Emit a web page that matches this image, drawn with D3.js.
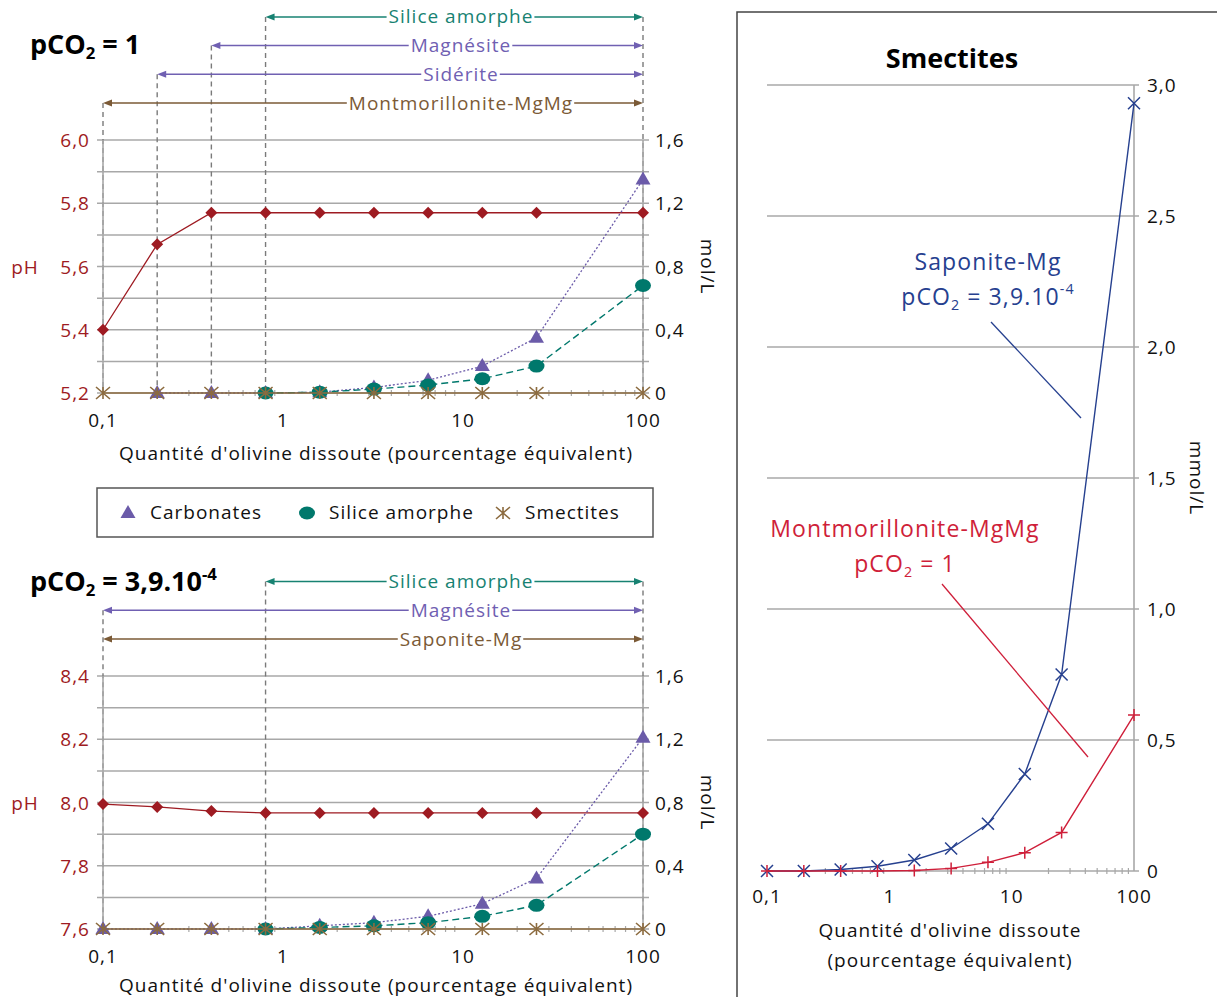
<!DOCTYPE html>
<html>
<head>
<meta charset="utf-8">
<script src="https://cdn.jsdelivr.net/npm/d3@7"></script>
<style>
  body { margin: 0; background: #fff; }
  svg { font-family: "Open Sans", "Noto Sans", sans-serif; letter-spacing: 1px; }
</style>
</head>
<body>
<div id="chart"></div>
<script>
// olivine dissolved (percent equivalent), shared x values
var xValues = [0.1, 0.2, 0.4, 0.8, 1.6, 3.2, 6.4, 12.8, 25.6, 100];
var xTicks = [0.1, 1, 10, 100];
var xTickLabels = ["0,1", "1", "10", "100"];

// pCO2 = 1
var ph1 = [5.40, 5.67, 5.77, 5.77, 5.77, 5.77, 5.77, 5.77, 5.77, 5.77];
var carb1 = [null, 0, 0, 0, 0.005, 0.035, 0.08, 0.17, 0.35, 1.35];
var silica1 = [null, null, null, 0, 0.005, 0.025, 0.05, 0.09, 0.17, 0.68];
var smect1 = [0, 0, 0, 0, 0, 0, 0, 0, 0, 0];
var phases1 = ["Silice amorphe", "Magnésite", "Sidérite", "Montmorillonite-MgMg"];
var phaseStart1 = [0.8, 0.4, 0.2, 0.1];
var phTicks1 = [5.2, 5.4, 5.6, 5.8, 6.0];

// pCO2 = 3,9.10-4
var ph2 = [7.995, 7.986, 7.973, 7.967, 7.967, 7.967, 7.967, 7.967, 7.967, 7.967];
var carb2 = [0, 0, 0, 0, 0.02, 0.04, 0.08, 0.16, 0.32, 1.21];
var silica2 = [null, null, null, 0, 0.01, 0.02, 0.04, 0.08, 0.15, 0.60];
var smect2 = [0, 0, 0, 0, 0, 0, 0, 0, 0, 0];
var phases2 = ["Silice amorphe", "Magnésite", "Saponite-Mg"];
var phaseStart2 = [0.8, 0.1, 0.1];
var phTicks2 = [7.6, 7.8, 8.0, 8.2, 8.4];

var molTicks = [0, 0.4, 0.8, 1.2, 1.6];
var molTickLabels = ["0", "0,4", "0,8", "1,2", "1,6"];

// smectites, mmol/L
var saponite = [0, 0, 0.006, 0.018, 0.042, 0.086, 0.18, 0.37, 0.75, 2.93];
var montmo = [0, 0, 0, 0, 0.002, 0.01, 0.033, 0.07, 0.147, 0.595];
var mmolTicks = [0, 0.5, 1.0, 1.5, 2.0, 2.5, 3.0];
var mmolTickLabels = ["0", "0,5", "1,0", "1,5", "2,0", "2,5", "3,0"];

var colors = {
  ph: "#9e1b22", carb: "#6b5ba9", silica: "#00786c", smect: "#8c6b3f",
  grid: "#a8a8a8", dash: "#7a7a7a", sap: "#26408f", mont: "#cf1f3a"
};
var phaseColors = {
  "Silice amorphe": "#178272", "Magnésite": "#7060b2", "Sidérite": "#7060b2",
  "Montmorillonite-MgMg": "#7b5a36", "Saponite-Mg": "#7b5a36"
};
var fs = 19;

var svg = d3.select("#chart").append("svg")
  .attr("width", 1217).attr("height", 997);

function richText(g, x, y, parts, anchor) {
  var t = g.append("text").attr("x", x).attr("y", y)
    .attr("text-anchor", anchor || "start");
  parts.forEach(function(p) {
    var s = t.append("tspan").text(p[0]);
    if (p[1] == "sub") s.attr("font-size", "62%").attr("dy", 5);
    else if (p[1] == "sup") s.attr("font-size", "62%").attr("dy", -11);
    else if (p[1] == "resetSub") s.attr("dy", -5);
  });
  return t;
}

function drawMarker(g, type, px, py, color) {
  if (type == "diamond") {
    g.append("path").attr("d", "M" + px + "," + (py - 6) + "L" + (px + 6) + "," + py +
      "L" + px + "," + (py + 6) + "L" + (px - 6) + "," + py + "Z").attr("fill", color);
  } else if (type == "triangle") {
    g.append("path").attr("d", "M" + px + "," + (py - 8) + "L" + (px + 7.5) + "," + (py + 5) +
      "L" + (px - 7.5) + "," + (py + 5) + "Z").attr("fill", color);
  } else if (type == "circle") {
    g.append("ellipse").attr("cx", px).attr("cy", py).attr("rx", 8).attr("ry", 6.5).attr("fill", color);
  } else if (type == "star") {
    g.append("path").attr("d", "M" + (px - 7) + "," + (py - 6) + "L" + (px + 7) + "," + (py + 6) +
      "M" + (px - 7) + "," + (py + 6) + "L" + (px + 7) + "," + (py - 6) +
      "M" + px + "," + (py - 6) + "L" + px + "," + (py + 6))
      .attr("stroke", color).attr("stroke-width", 1.6).attr("fill", "none");
  } else if (type == "cross") {
    g.append("path").attr("d", "M" + (px - 6) + "," + (py - 6) + "L" + (px + 6) + "," + (py + 6) +
      "M" + (px - 6) + "," + (py + 6) + "L" + (px + 6) + "," + (py - 6))
      .attr("stroke", color).attr("stroke-width", 1.5).attr("fill", "none");
  } else if (type == "plus") {
    g.append("path").attr("d", "M" + (px - 6) + "," + py + "L" + (px + 6) + "," + py +
      "M" + px + "," + (py - 6) + "L" + px + "," + (py + 6))
      .attr("stroke", color).attr("stroke-width", 1.5).attr("fill", "none");
  }
}

function drawSeries(g, x, y, values, color, dash, marker, width) {
  var pts = xValues.map(function(v, i) { return [v, values[i]]; });
  var line = d3.line()
    .defined(function(d) { return d[1] != null; })
    .x(function(d) { return x(d[0]); })
    .y(function(d) { return y(d[1]); });
  g.append("path").datum(pts)
    .attr("fill", "none").attr("stroke", color)
    .attr("stroke-width", width || 1.4)
    .attr("stroke-dasharray", dash)
    .attr("d", line);
  pts.forEach(function(d) {
    if (d[1] != null) drawMarker(g, marker, x(d[0]), y(d[1]), color);
  });
}

function minorTicks(g, x, y0) {
  for (var k = -1; k < 2; k++) {
    for (var m = 2; m < 10; m++) {
      var xv = x(m * Math.pow(10, k));
      g.append("line").attr("x1", xv).attr("x2", xv).attr("y1", y0 - 3).attr("y2", y0 + 3)
        .attr("stroke", colors.grid).attr("stroke-width", 1.2);
    }
  }
}

function drawPanel(p) {
  var g = svg.append("g");
  var x = d3.scaleLog().domain([0.1, 100]).range([103, 643]);
  var lo = p.phTicks[0], hi = p.phTicks[p.phTicks.length - 1];
  var yPh = d3.scaleLinear().domain([lo, hi]).range([p.bottom, p.top]);
  var yMol = d3.scaleLinear().domain([0, 1.6]).range([p.bottom, p.top]);

  // title
  richText(g, 30, p.titleY, p.title).attr("font-size", 27).attr("font-weight", "bold")
    .attr("letter-spacing", 0).attr("fill", "#000");

  // grid every 0.1 pH
  d3.range(9).forEach(function(i) {
    var yy = yPh(lo + i * 0.1);
    g.append("line").attr("x1", 97).attr("x2", 649).attr("y1", yy).attr("y2", yy)
      .attr("stroke", colors.grid).attr("stroke-width", 1.5);
  });

  // phase rows
  var n = p.phases.length;
  var rowY = p.phases.map(function(d, i) { return p.top - 37 - (n - 1 - i) * 28.7; });
  var dashTop = {};
  p.phases.forEach(function(name, i) {
    var s = p.phaseStart[i];
    if (dashTop[s] == null || rowY[i] < dashTop[s]) dashTop[s] = rowY[i];
  });
  dashTop[100] = d3.min(rowY);
  Object.keys(dashTop).forEach(function(k) {
    var xx = x(+k);
    g.append("line").attr("x1", xx).attr("x2", xx).attr("y1", dashTop[k]).attr("y2", p.bottom)
      .attr("stroke", colors.dash).attr("stroke-width", 1.4).attr("stroke-dasharray", "5,4");
  });

  p.phases.forEach(function(name, i) {
    var c = phaseColors[name];
    var x0 = x(p.phaseStart[i]), x1 = x(100), yy = rowY[i];
    g.append("line").attr("x1", x0 + 4).attr("x2", x1 - 4).attr("y1", yy).attr("y2", yy)
      .attr("stroke", c).attr("stroke-width", 1.5);
    g.append("path").attr("d", "M" + x0 + "," + yy + "l9,-3.5v7z").attr("fill", c);
    g.append("path").attr("d", "M" + x1 + "," + yy + "l-9,-3.5v7z").attr("fill", c);
    var t = g.append("text").attr("x", x(10) - 2).attr("y", yy + 6.5)
      .attr("text-anchor", "middle").attr("font-size", fs).attr("fill", c).text(name);
    var bb = t.node().getBBox();
    g.insert("rect", function() { return t.node(); })
      .attr("x", bb.x - 2).attr("y", yy - 3).attr("width", bb.width + 3).attr("height", 6)
      .attr("fill", "#fff");
  });

  // axes lines
  g.append("line").attr("x1", 103).attr("x2", 103).attr("y1", p.top).attr("y2", p.bottom)
    .attr("stroke", colors.grid).attr("stroke-width", 1.6);
  g.append("line").attr("x1", 643).attr("x2", 643).attr("y1", p.top).attr("y2", p.bottom)
    .attr("stroke", colors.grid).attr("stroke-width", 1.6);
  minorTicks(g, x, p.bottom);

  // tick labels
  p.phTicks.forEach(function(v) {
    g.append("text").attr("x", 90).attr("y", yPh(v) + 7).attr("text-anchor", "end")
      .attr("font-size", fs).attr("fill", colors.ph).text(d3.format(".1f")(v).replace(".", ","));
  });
  molTicks.forEach(function(v, i) {
    g.append("text").attr("x", 655).attr("y", yMol(v) + 7)
      .attr("font-size", fs).attr("fill", "#111").text(molTickLabels[i]);
  });
  xTicks.forEach(function(v, i) {
    g.append("text").attr("x", x(v)).attr("y", p.bottom + 34).attr("text-anchor", "middle")
      .attr("font-size", fs).attr("fill", "#111").text(xTickLabels[i]);
  });
  g.append("text").attr("x", 376).attr("y", p.bottom + p.titleGap).attr("text-anchor", "middle")
    .attr("font-size", fs).attr("fill", "#111")
    .text("Quantité d'olivine dissoute (pourcentage équivalent)");
  var mid = (p.top + p.bottom) / 2;
  g.append("text").attr("x", 25).attr("y", mid + 7).attr("text-anchor", "middle")
    .attr("font-size", fs).attr("fill", colors.ph).text("pH");
  g.append("text").attr("transform", "translate(701," + mid + ") rotate(90)")
    .attr("text-anchor", "middle").attr("font-size", fs).attr("fill", "#111").text("mol/L");

  // series
  drawSeries(g, x, yPh, p.ph, colors.ph, null, "diamond", 1.3);
  drawSeries(g, x, yMol, p.carb, colors.carb, "2,2", "triangle", 1.3);
  drawSeries(g, x, yMol, p.silica, colors.silica, "7,4", "circle", 1.4);
  drawSeries(g, x, yMol, p.smect, colors.smect, null, "star", 1.5);
}

drawPanel({
  top: 140, bottom: 393, titleY: 54, titleGap: 67,
  title: [["pCO"], ["2", "sub"], [" = 1", "resetSub"]],
  phTicks: phTicks1, ph: ph1, carb: carb1, silica: silica1, smect: smect1,
  phases: phases1, phaseStart: phaseStart1
});
drawPanel({
  top: 676, bottom: 929, titleY: 591, titleGap: 63,
  title: [["pCO"], ["2", "sub"], [" = 3,9.10", "resetSub"], ["-4", "sup"]],
  phTicks: phTicks2, ph: ph2, carb: carb2, silica: silica2, smect: smect2,
  phases: phases2, phaseStart: phaseStart2
});

// legend
var lg = svg.append("g");
lg.append("rect").attr("x", 97).attr("y", 488).attr("width", 556).attr("height", 49)
  .attr("fill", "none").attr("stroke", "#555").attr("stroke-width", 1.5);
var legendItems = [["Carbonates", "triangle", colors.carb, 128], ["Silice amorphe", "circle", colors.silica, 307], ["Smectites", "star", colors.smect, 503]];
legendItems.forEach(function(d) {
  drawMarker(lg, d[1], d[3], 513, d[2]);
  lg.append("text").attr("x", d[3] + 22).attr("y", 519).attr("font-size", fs).attr("fill", "#111").text(d[0]);
});

// right panel: smectites
var rg = svg.append("g");
rg.append("rect").attr("x", 737).attr("y", 12).attr("width", 600).attr("height", 1000)
  .attr("fill", "none").attr("stroke", "#444").attr("stroke-width", 1.5);
var xr = d3.scaleLog().domain([0.1, 100]).range([767, 1134]);
var yr = d3.scaleLinear().domain([0, 3]).range([871, 85]);
mmolTicks.forEach(function(v, i) {
  rg.append("line").attr("x1", 767).attr("x2", 1139).attr("y1", yr(v)).attr("y2", yr(v))
    .attr("stroke", colors.grid).attr("stroke-width", 1.5);
  rg.append("text").attr("x", 1147).attr("y", yr(v) + 7).attr("font-size", fs).attr("fill", "#111")
    .text(mmolTickLabels[i]);
});
rg.append("line").attr("x1", 1134).attr("x2", 1134).attr("y1", yr(3)).attr("y2", yr(0))
  .attr("stroke", colors.grid).attr("stroke-width", 1.6);
minorTicks(rg, xr, yr(0));
xTicks.forEach(function(v, i) {
  rg.append("text").attr("x", xr(v)).attr("y", 903).attr("text-anchor", "middle")
    .attr("font-size", fs).attr("fill", "#111").text(xTickLabels[i]);
});
rg.append("text").attr("x", 950).attr("y", 937).attr("text-anchor", "middle")
  .attr("font-size", fs).attr("fill", "#111").text("Quantité d'olivine dissoute");
rg.append("text").attr("x", 950).attr("y", 967).attr("text-anchor", "middle")
  .attr("font-size", fs).attr("fill", "#111").text("(pourcentage équivalent)");
rg.append("text").attr("transform", "translate(1190,478) rotate(90)")
  .attr("text-anchor", "middle").attr("font-size", fs).attr("fill", "#111").text("mmol/L");
rg.append("text").attr("x", 952).attr("y", 68).attr("text-anchor", "middle")
  .attr("font-size", 27).attr("font-weight", "bold").attr("letter-spacing", 0)
  .attr("fill", "#000").text("Smectites");

drawSeries(rg, xr, yr, saponite, colors.sap, null, "cross", 1.4);
drawSeries(rg, xr, yr, montmo, colors.mont, null, "plus", 1.4);

// annotations
rg.append("text").attr("x", 988).attr("y", 270).attr("text-anchor", "middle")
  .attr("font-size", 23).attr("letter-spacing", 1.1).attr("fill", colors.sap).text("Saponite-Mg");
richText(rg, 988, 305, [["pCO"], ["2", "sub"], [" = 3,9.10", "resetSub"], ["-4", "sup"]], "middle")
  .attr("font-size", 23).attr("letter-spacing", 1.1).attr("fill", colors.sap);
rg.append("line").attr("x1", 991).attr("y1", 322).attr("x2", 1081).attr("y2", 418)
  .attr("stroke", colors.sap).attr("stroke-width", 1.3);
rg.append("text").attr("x", 905).attr("y", 537).attr("text-anchor", "middle")
  .attr("font-size", 23).attr("letter-spacing", 1.1).attr("fill", colors.mont).text("Montmorillonite-MgMg");
richText(rg, 905, 572, [["pCO"], ["2", "sub"], [" = 1", "resetSub"]], "middle")
  .attr("font-size", 23).attr("letter-spacing", 1.1).attr("fill", colors.mont);
rg.append("line").attr("x1", 942).attr("y1", 584).attr("x2", 1088).attr("y2", 757)
  .attr("stroke", colors.mont).attr("stroke-width", 1.3);
</script>
</body>
</html>
